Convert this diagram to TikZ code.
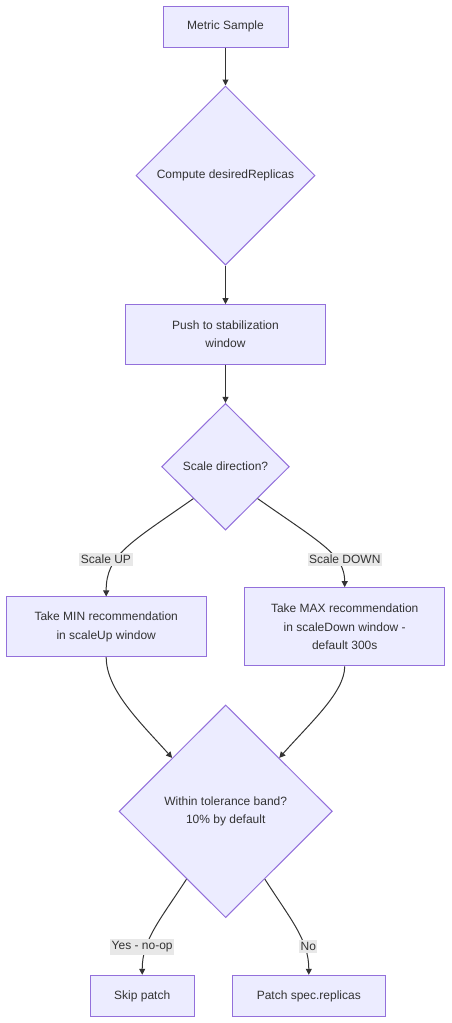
\documentclass[tikz,border=0pt]{standalone}
\usepackage{fontspec}
\setmainfont{Liberation Sans}
\usetikzlibrary{shapes.geometric,arrows.meta}
\definecolor{nodefill}{HTML}{ECECFF}
\definecolor{nodeline}{HTML}{9370DB}
\definecolor{edgeline}{HTML}{333333}
\definecolor{labelbg}{HTML}{E8E8E8}
\definecolor{txt}{HTML}{333333}
\begin{document}
\begin{tikzpicture}[x=1pt,y=-1pt,
  box/.style={draw=nodeline, fill=nodefill, line width=1pt, inner sep=0pt,
    align=center, text=txt, font=\fontsize{12}{18.3}\selectfont},
  dia/.style={box, diamond, aspect=1},
  lbl/.style={fill=labelbg, inner xsep=1.5pt, inner ysep=2.5pt, text=txt,
    font=\fontsize{12}{14}\selectfont},
  arr/.style={draw=edgeline, line width=1pt, -{Triangle[length=6pt,width=6pt]}}]
\useasboundingbox (0,0) rectangle (451,1023);

\node[box, minimum width=125pt, minimum height=41pt] (ms) at (225.5,26.5) {Metric Sample};
\node[dia, minimum width=179pt, minimum height=179pt] (cd) at (225.5,175.5) {Compute desiredReplicas};
\node[box, minimum width=200pt, minimum height=59.6pt] (push) at (225.5,334.5) {Push to stabilization\\window};
\node[dia, minimum width=127.6pt, minimum height=126.7pt] (dir) at (225.5,466.7) {Scale direction?};
\node[box, minimum width=200.3pt, minimum height=59.7pt] (min) at (106.2,626.8) {Take MIN recommendation\\in scaleUp window};
\node[box, minimum width=200pt, minimum height=78.3pt] (max) at (344.7,626.8) {Take MAX recommendation\\in scaleDown window -\\default 300s};
\node[dia, minimum width=213.3pt, minimum height=212.7pt] (tol) at (225.7,811.3) {Within tolerance band?\\10\% by default};
\node[box, minimum width=103.7pt, minimum height=41.4pt] (skip) at (142.2,996) {Skip patch};
\node[box, minimum width=153pt, minimum height=41.4pt] (patch) at (308.8,996) {Patch spec.replicas};

\draw[arr] (ms.south) -- (cd.north);
\draw[arr] (cd.south) -- (push.north);
\draw[arr] (push.south) -- (dir.north);
\draw[arr] (dir.south west) .. controls (130,543) and (106,555) .. (min.north);
\draw[arr] (dir.south east) .. controls (321,543) and (344.7,555) .. (max.north);
\draw[arr] (min.south) .. controls (106.2,690) and (140,722) .. (tol.north west);
\draw[arr] (max.south) .. controls (344.7,692) and (311,722) .. (tol.north east);
\draw[arr] (tol.-120) .. controls (160,920) and (142.2,940) .. (skip.north);
\draw[arr] (tol.-60) .. controls (291,920) and (308.8,940) .. (patch.north);

\node[lbl] (lup) at (106,559.5) {Scale UP};
\node[lbl] (ldown) at (344.8,559.5) {Scale DOWN};
\node[lbl] (lyes) at (142.2,946.7) {Yes - no-op};
\node[lbl] (lno) at (308.3,946.7) {No};
\end{tikzpicture}
\end{document}
